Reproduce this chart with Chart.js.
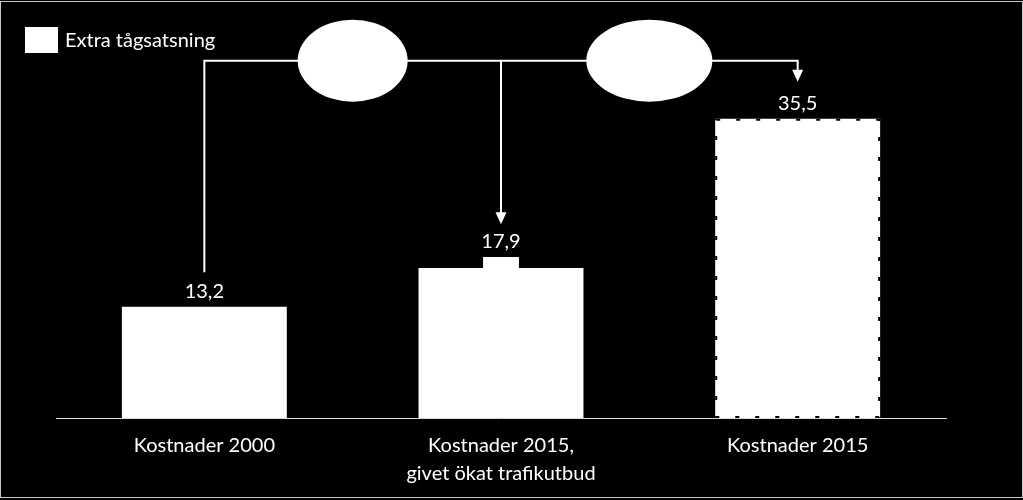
<!DOCTYPE html>
<html>
<head>
<meta charset="utf-8">
<script src="https://cdn.jsdelivr.net/npm/chart.js@4/dist/chart.umd.min.js"></script>
<style>
  html, body { margin: 0; padding: 0; background: #000; }
  #wrap { width: 1023px; height: 500px; }
</style>
</head>
<body>
<div id="wrap"><canvas id="myChart" width="1023" height="500"></canvas></div>
<script>
const categories = ["Kostnader 2000", ["Kostnader 2015,", "givet ökat trafikutbud"], "Kostnader 2015"];
const baseValues = [13.2, 17.8, 35.5];
const extraValues = [null, 1.3, null];
const valueLabels = ["13,2", "17,9", "35,5"];

const FONT = 'Lato, "Open Sans", sans-serif';

const annot = {
  id: 'annot',
  beforeDraw(chart) {
    const ctx = chart.ctx;
    ctx.save();
    ctx.fillStyle = '#000';
    ctx.fillRect(0, 0, chart.width, chart.height);
    ctx.restore();
  },
  afterDatasetsDraw(chart) {
    const ctx = chart.ctx;
    const x = chart.scales.x, y = chart.scales.y;
    const base = chart.getDatasetMeta(0).data;
    const extra = chart.getDatasetMeta(1).data;
    ctx.save();

    // dashed edge on the last bar
    const b = base[2];
    ctx.strokeStyle = '#000';
    ctx.lineWidth = 2;
    ctx.setLineDash([4, 16]);
    ctx.strokeRect(b.x - b.width / 2 + 1, b.y + 1, b.width - 2, b.base - b.y - 2);
    ctx.setLineDash([]);

    // value labels
    ctx.fillStyle = '#fff';
    ctx.font = '20px ' + FONT;
    ctx.textAlign = 'center';
    ctx.textBaseline = 'alphabetic';
    for (let i = 0; i < base.length; i++) {
      let top = base[i].y;
      if (extra[i] && extraValues[i] != null) top = Math.min(top, extra[i].y);
      ctx.fillText(valueLabels[i], base[i].x, top - 9);
    }

    // connectors
    const lineY = y.getPixelForValue(42.4);
    const x0 = base[0].x, x1 = base[1].x, x2 = base[2].x;
    ctx.strokeStyle = '#fff';
    ctx.lineWidth = 2;
    ctx.beginPath();
    ctx.moveTo(x0, y.getPixelForValue(17.3));
    ctx.lineTo(x0, lineY);
    ctx.lineTo(x2, lineY);
    ctx.lineTo(x2, y.getPixelForValue(39.9) - 10);
    ctx.moveTo(x1, lineY);
    ctx.lineTo(x1, y.getPixelForValue(23.0) - 10);
    ctx.stroke();

    const arrow = (px, tip) => {
      ctx.beginPath();
      ctx.moveTo(px - 5.5, tip - 12);
      ctx.lineTo(px + 5.5, tip - 12);
      ctx.lineTo(px, tip);
      ctx.closePath();
      ctx.fill();
    };
    arrow(x1, y.getPixelForValue(23.0));
    arrow(x2, y.getPixelForValue(39.9));

    ctx.beginPath();
    ctx.ellipse(x.getPixelForValue(0.5), lineY, 55, 41, 0, 0, Math.PI * 2);
    ctx.fill();
    ctx.beginPath();
    ctx.ellipse(x.getPixelForValue(1.5), lineY, 63, 41, 0, 0, Math.PI * 2);
    ctx.fill();

    // legend
    ctx.fillRect(25, 27, 33, 26);
    ctx.textAlign = 'left';
    ctx.textBaseline = 'middle';
    ctx.fillText(chart.data.datasets[1].label, 65, 41);

    // frame
    ctx.strokeStyle = '#c8c8c8';
    ctx.lineWidth = 1;
    ctx.strokeRect(0.5, 1.5, chart.width - 1, chart.height - 4);
    ctx.restore();
  }
};

const config = {
  type: 'bar',
  data: {
    labels: categories,
    datasets: [
      {
        label: 'Kostnad',
        data: baseValues,
        backgroundColor: '#fff',
        borderWidth: 0,
        barPercentage: 0.556,
        categoryPercentage: 1
      },
      {
        label: 'Extra tågsatsning',
        data: extraValues,
        backgroundColor: '#fff',
        borderWidth: 0,
        barPercentage: 0.121,
        categoryPercentage: 1
      }
    ]
  },
  options: {
    responsive: false,
    animation: false,
    layout: { padding: { left: 56, right: 77, top: 0, bottom: 0 } },
    plugins: {
      legend: { display: false },
      tooltip: { enabled: false }
    },
    scales: {
      x: {
        stacked: true,
        grid: { display: false, drawTicks: false },
        border: { display: true, color: '#d9d9d9', width: 1 },
        ticks: {
          color: '#fff',
          padding: 14,
          font: { family: FONT, size: 20, lineHeight: 1.4 }
        },
        afterFit(scale) { scale.height = 82; }
      },
      y: {
        stacked: true,
        display: false,
        min: 0,
        max: 49.6
      }
    }
  },
  plugins: [annot]
};

new Chart(document.getElementById('myChart'), config);
</script>
</body>
</html>
